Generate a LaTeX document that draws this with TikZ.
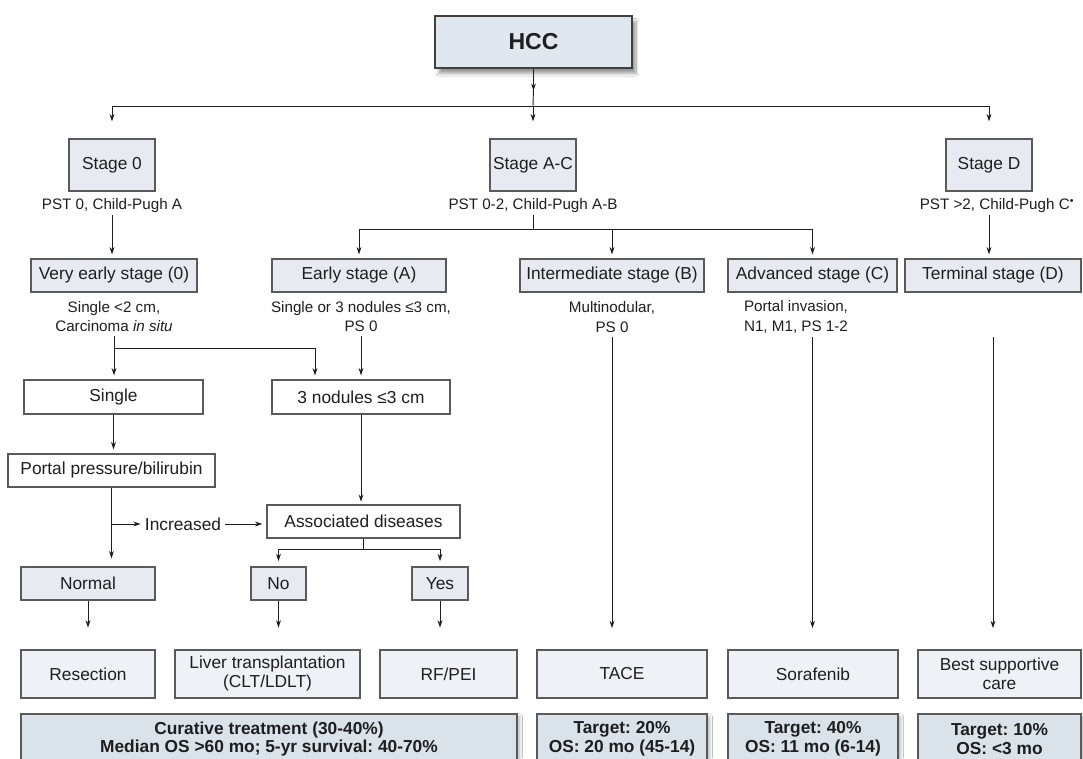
\documentclass[tikz,border=0pt]{standalone}
\usepackage{fontspec}
\setmainfont{Liberation Sans}
\usetikzlibrary{arrows.meta,shadows.blur}
\definecolor{stagefill}{HTML}{E7EBF1}
\definecolor{trtfill}{HTML}{EEF1F6}
\definecolor{outfill}{HTML}{DAE2EA}
\definecolor{hccfill}{HTML}{E1E7EE}
\definecolor{edge}{HTML}{5A5A5A}
\definecolor{ink}{HTML}{1E1E1E}
\frenchspacing
\newcommand\mybox[7]{\node[#6, minimum width={(#4-#2)*0.75pt}, minimum height={(#5-#3)*0.75pt}] (#1) at ({(#2+#4)/2},{(#3+#5)/2}) {#7};}
\begin{document}
\begin{tikzpicture}[x=0.75pt, y=-0.75pt,
  every node/.style={text=ink},
  stagebox/.style={draw=edge, line width=0.9pt, fill=stagefill, inner sep=0pt, align=center, font=\fontsize{13}{15}\selectfont},
  whitebox/.style={stagebox, fill=white},
  trtbox/.style={stagebox, fill=trtfill, font=\fontsize{13}{14.25}\selectfont},
  outbox/.style={draw=edge, line width=0.9pt, fill=outfill, inner sep=0pt, align=center, font=\bfseries\fontsize{13}{14}\selectfont,
    blur shadow={shadow blur steps=8, shadow xshift=2pt, shadow yshift=-2pt, shadow opacity=30}},
  hccbox/.style={draw=edge!70!black, line width=1.1pt, fill=hccfill, inner sep=0pt, font=\bfseries\fontsize{17.3}{20}\selectfont,
    blur shadow={shadow blur steps=10, shadow xshift=3pt, shadow yshift=-4pt, shadow opacity=40}},
  note/.style={align=center, font=\fontsize{11.4}{14.6}\selectfont, inner sep=1pt},
  plain/.style={font=\fontsize{13}{15}\selectfont, inner sep=3pt},
  arr/.style={-{Stealth[length=5.5pt,width=3.6pt]}, line width=0.7pt, draw=ink},
  ln/.style={line width=0.7pt, draw=ink}]
\useasboundingbox (0,0) rectangle (1083,758);
\fill[white] (0,0) rectangle (1083,758);

% top
\mybox{hcc}{435}{16}{632}{68}{hccbox}{HCC}
\mybox{s0}{69}{139}{155}{191}{stagebox}{Stage 0}
\mybox{sac}{490}{139}{576}{191}{stagebox}{Stage A-C}
\mybox{sd}{946}{139}{1032}{191}{stagebox}{Stage D}
\node[note] (p0) at (112,206) {PST 0, Child-Pugh A};
\node[note] (pac) at (533,206) {PST 0-2, Child-Pugh A-B};
\node[note] (pd) at (997,206) {PST >2, Child-Pugh C\textsuperscript{\textbullet}};

% stage row
\mybox{ve}{31}{259}{197}{292}{stagebox}{Very early stage (0)}
\mybox{ea}{272}{259}{446}{292}{stagebox}{Early stage (A)}
\mybox{im}{520}{259}{704}{292}{stagebox}{Intermediate stage (B)}
\mybox{ad}{728}{259}{897}{292}{stagebox}{Advanced stage (C)}
\mybox{te}{905}{259}{1081}{292}{stagebox}{Terminal stage (D)}
\node[note] (vet) at (114,316.5) {Single <2 cm,\\Carcinoma \textit{in situ}};
\node[note] (eat) at (361,316.5) {Single or 3 nodules ≤3 cm,\\PS 0};
\node[note] (imt) at (612,317) {Multinodular,\\PS 0};
\node[note] (adt) at (796,317) {Portal invasion,\\N1, M1, PS 1-2};

% middle
\mybox{single}{24}{380}{203}{414}{whitebox}{Single}
\mybox{three}{272}{380}{450}{414}{whitebox}{3 nodules ≤3 cm}
\mybox{portal}{8}{454}{215}{487}{whitebox}{Portal pressure/bilirubin}
\mybox{assoc}{267}{505}{460}{538}{whitebox}{Associated diseases}
\node[plain] (inc) at (183,524) {Increased};
\mybox{normal}{21}{567}{155}{600}{stagebox}{Normal}
\mybox{no}{251}{567}{306}{600}{stagebox}{No}
\mybox{yes}{412}{567}{468}{600}{stagebox}{Yes}

% treatments
\mybox{res}{21}{650}{155}{698}{trtbox}{Resection}
\mybox{lt}{175}{650}{360}{698}{trtbox}{Liver transplantation\\(CLT/LDLT)}
\mybox{rf}{380}{650}{517}{698}{trtbox}{RF/PEI}
\mybox{tace}{537}{650}{707}{698}{trtbox}{TACE}
\mybox{sor}{728}{650}{898}{698}{trtbox}{Sorafenib}
\mybox{bsc}{918}{650}{1081}{698}{trtbox}{Best supportive\\care}

% outcomes
\mybox{cur}{21}{714}{517}{764}{outbox}{Curative treatment (30-40\%)\\Median OS >60 mo; 5-yr survival: 40-70\%}
\mybox{o1}{537}{714}{707}{764}{outbox}{Target: 20\%\\OS: 20 mo (45-14)}
\mybox{o2}{728}{714}{898}{764}{outbox}{Target: 40\%\\OS: 11 mo (6-14)}
\mybox{o3}{918}{714}{1081}{764}{outbox}{Target: 10\%\\OS: <3 mo}

% connectors top
\coordinate (bus) at (533,106);
\draw[arr] (hcc.south) -- ++(0,22);
\draw[ln] (hcc.south) ++(0,20) -- (bus);
\draw[ln] (s0.north |- bus) -- (sd.north |- bus);
\foreach \n in {s0,sac,sd} \draw[arr, shorten >=12.75pt] (\n.north |- bus) -- (\n.north);
\draw[arr, shorten >=3pt] (p0.south) -- (p0.south |- ve.north);
\coordinate (bus2) at (533,229);
\draw[ln] (pac.south) -- (pac.south |- bus2);
\draw[ln] (ea.north |- bus2) -- (ad.north |- bus2);
\foreach \n in {ea,im,ad} \draw[arr, shorten >=3pt] (\n.north |- bus2) -- (\n.north);
\draw[arr, shorten >=3pt] (sd.south |- pd.south) -- (sd.south |- te.north);

% connectors middle
\coordinate (j1) at (114,348);
\coordinate (j2) at (315,348);
\draw[arr, shorten <=2pt, shorten >=3pt] (vet.south) -- (vet.south |- single.north);
\draw[ln] (j1) -- (j2);
\draw[arr, shorten >=3pt] (j2) -- (j2 |- three.north);
\draw[arr, shorten <=2pt, shorten >=3pt] (eat.south) -- (eat.south |- three.north);
\draw[arr, shorten >=3pt] (single.south) -- (single.south |- portal.north);
\draw[arr, shorten >=2pt] (three.south) -- (three.south |- assoc.north);
\draw[arr, shorten >=6pt] (portal.south) -- (portal.south |- normal.north);
\draw[arr] (portal.south |- inc.west) -- (inc.west);
\draw[arr, shorten >=3pt] (inc.east) -- (inc.east -| assoc.west);
\coordinate (j3) at (363.5,549);
\draw[ln] (assoc.south) -- (assoc.south |- j3);
\draw[ln] (no.north |- j3) -- (yes.north |- j3);
\foreach \n in {no,yes} \draw[arr, shorten >=4pt] (\n.north |- j3) -- (\n.north);
\foreach \n in {normal,no,yes} \draw[arr] (\n.south) -- ++(0,27);

% long connectors
\draw[arr, shorten <=2pt, shorten >=16pt] (imt.south) -- (imt.south |- tace.north);
\draw[arr, shorten <=2pt, shorten >=16pt] (adt.south -| ad.south) -- (ad.south |- sor.north);
\draw[arr, shorten <=2pt, shorten >=16pt] (adt.south -| te.south) -- (te.south |- bsc.north);
\end{tikzpicture}
\end{document}
